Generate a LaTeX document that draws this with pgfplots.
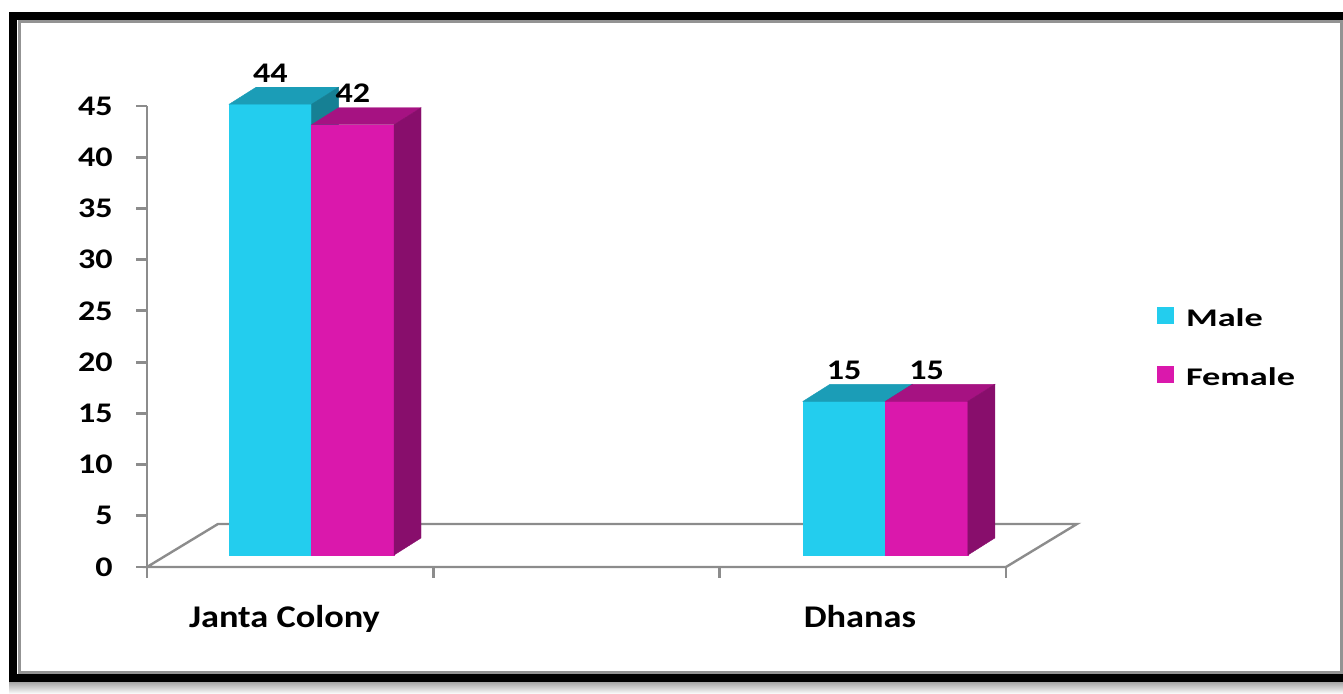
\documentclass[border=0pt]{standalone}
\usepackage{pgfplots}
\pgfplotsset{compat=1.18}
\usepackage{fontspec}
\setmainfont{Carlito}
\newfontfamily\lf{Carlito}[FakeStretch=1.15]
\newfontfamily\nf{Carlito}[FakeStretch=1.2]
\newfontfamily\gf{Carlito}[FakeStretch=1.43]
\definecolor{maleF}{RGB}{35,205,238}
\definecolor{maleT}{RGB}{27,157,183}
\definecolor{maleS}{RGB}{22,128,148}
\definecolor{femF}{RGB}{218,24,172}
\definecolor{femT}{RGB}{166,18,130}
\definecolor{femS}{RGB}{136,14,108}
\definecolor{axgray}{RGB}{140,140,140}
\newcommand\bW{0.288}
\newcommand\bOff{1.17}
\newcommand\bDx{0.094}
\newcommand\bDy{1.66}
\newcommand\dlfont{\nf\bfseries\fontsize{14.2}{16}\selectfont}
\tikzset{dlab/.style={font=\dlfont, anchor=base, inner sep=0pt, yshift=2.5pt}}
\newcommand\cbar[5]{%
 \pgfmathsetmacro\xa{#1}%
 \pgfmathsetmacro\xb{#1+\bW}%
 \pgfmathsetmacro\xc{#1+\bW+\bDx}%
 \pgfmathsetmacro\xd{#1+\bDx}%
 \pgfmathsetmacro\xm{#1+0.5*\bW}%
 \pgfmathsetmacro\ya{\bOff}%
 \pgfmathsetmacro\yb{#2+\bOff}%
 \pgfmathsetmacro\yc{#2+\bOff+\bDy}%
 \pgfmathsetmacro\yd{\bOff+\bDy}%
 \edef\tmp{%
 \noexpand\addplot[fill=#3, draw=#3, line width=0.2pt, forget plot] coordinates {(\xa,\ya) (\xb,\ya) (\xb,\yb) (\xa,\yb)} -- cycle;
 \noexpand\addplot[fill=#4, draw=#4, line width=0.2pt, forget plot] coordinates {(\xa,\yb) (\xb,\yb) (\xc,\yc) (\xd,\yc)} -- cycle;
 \noexpand\addplot[fill=#5, draw=#5, line width=0.2pt, forget plot] coordinates {(\xb,\ya) (\xc,\yd) (\xc,\yc) (\xb,\yb)} -- cycle;
 \noexpand\node[dlab] at (axis cs:\xm,\yc) {#2};
 }\tmp}
\begin{document}
\begin{tikzpicture}
\useasboundingbox (0pt,0pt) rectangle (671.5pt,347pt);
\shade[top color=gray!70, bottom color=white] (4.5pt,0pt) rectangle (676pt,6pt);
\draw[line width=4pt, black] (6.5pt,8pt) rectangle (674pt,339pt);
\draw[line width=1.5pt, color=gray!85] (9.5pt,10.75pt) rectangle (670.9pt,336.25pt);
\begin{axis}[
 at={(73.5pt,63.5pt)}, anchor=south west,
 scale only axis, width=429.5pt, height=230.5pt,
 xmin=0, xmax=3, ymin=0, ymax=45, clip=false,
 axis lines=left,
 axis line style={-, draw=axgray, line width=1.4pt},
 tick style={draw=axgray, line width=1.4pt},
 major tick length=5.5pt, tick align=outside,
 ytick={0,5,...,45},
 xtick={0,1,2,3}, xticklabels={},
 extra x ticks={0.48,2.49},
 extra x tick labels={Janta Colony,Dhanas},
 extra x tick style={major tick length=0pt, tick style={draw=none},
   xticklabel style={anchor=north, inner sep=0pt, yshift=-19pt,
   font=\lf\bfseries\fontsize{15.8}{18}\selectfont}},
 /pgf/number format/assume math mode=true,
 yticklabel style={anchor=east, inner sep=0pt, xshift=-11.5pt,
   font=\nf\bfseries\fontsize{14.2}{16}\selectfont},
 legend image code/.code={\fill[#1] (0pt,-2.5pt) rectangle (8.5pt,6pt);},
 legend style={draw=none, fill=none, at={(1.1758,0.5635)}, anchor=north west,
   inner sep=0pt, outer sep=0pt, row sep=18.1pt,
   font=\gf\bfseries\fontsize{12.7}{14}\selectfont,
   nodes={inner sep=0pt},
   /tikz/every odd column/.append style={column sep=6pt}},
 legend cell align=left,
]
\addlegendimage{fill=maleF, draw=none}\addlegendentry{Male}
\addlegendimage{fill=femF, draw=none}\addlegendentry{Female}
% floor
\addplot[draw=axgray, line width=1.2pt, fill=none, forget plot] coordinates {(0,0) (3,0) (3.248,4.2) (0.248,4.2)} -- cycle;
% bars: left edge of front face, value
\cbar{0.287}{44}{maleF}{maleT}{maleS}
\cbar{0.575}{42}{femF}{femT}{femS}
\cbar{2.291}{15}{maleF}{maleT}{maleS}
\cbar{2.579}{15}{femF}{femT}{femS}
\end{axis}
\end{tikzpicture}
\end{document}
